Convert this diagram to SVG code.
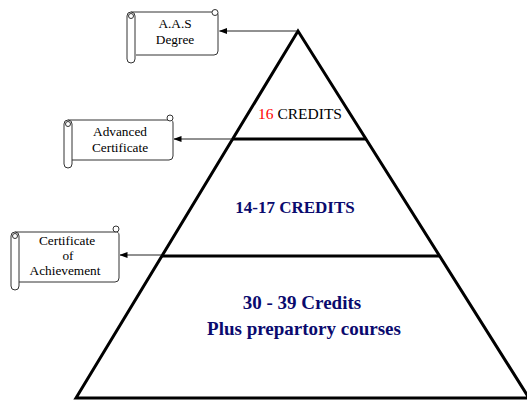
<svg xmlns="http://www.w3.org/2000/svg" width="527" height="402" viewBox="0 0 527 402">
<style>
.scroll{fill:#fff;stroke:#333;stroke-width:1}
.serif{font-family:"Liberation Serif","Tinos","DejaVu Serif",serif}
.lbl{font-size:13.3px;fill:#000;text-anchor:middle}
.pyr{fill:none;stroke:#000;stroke-width:3}
.conn{stroke:#222;stroke-width:1;fill:none;marker-end:url(#ah)}
.navy{font-weight:bold;fill:#0a0a6e;text-anchor:middle}
</style>
<defs>
<marker id="ah" viewBox="0 0 8 6" refX="7.5" refY="3" markerWidth="8" markerHeight="6" markerUnits="userSpaceOnUse" orient="auto">
<path d="M0,0 L8,3 L0,6 Z" fill="#000"/>
</marker>
</defs>
<rect width="527" height="402" fill="#fff"/>

<g id="pyramid">
<path class="pyr" d="M76,398 L298,31 L529,398 Z" stroke-linejoin="miter"/>
<line class="pyr" x1="233" y1="139" x2="366" y2="139"/>
<line class="pyr" x1="162" y1="256" x2="440" y2="256"/>
</g>

<g id="tier-top">
<text class="serif" x="300" y="119" font-size="15.5" text-anchor="middle"><tspan fill="#ff0000">16</tspan><tspan fill="#000"> CREDITS</tspan></text>
</g>
<g id="tier-middle">
<text class="serif navy" x="295" y="213" font-size="17">14-17 CREDITS</text>
</g>
<g id="tier-bottom">
<text class="serif navy" x="302" y="309" font-size="19">30 - 39 Credits</text>
<text class="serif navy" x="304" y="335" font-size="19">Plus prepartory courses</text>
</g>

<g id="scroll-aas">
<path class="scroll" d="M131,12 H214 A3,3 0 0 1 218,15 V51 A4,4 0 0 1 214,55 H136"/>
<circle class="scroll" cx="215" cy="12.5" r="3"/>
<rect class="scroll" x="127" y="12" width="8" height="51" rx="4"/>
<circle class="scroll" cx="131" cy="16" r="2.5"/>
<text class="serif lbl" x="175" y="27.5">A.A.S</text>
<text class="serif lbl" x="175" y="43.5">Degree</text>
</g>

<g id="scroll-advanced">
<path class="scroll" d="M68,120 H169 A3,3 0 0 1 173,123 V156 A4,4 0 0 1 169,160 H72"/>
<circle class="scroll" cx="170" cy="118" r="3"/>
<rect class="scroll" x="64" y="120" width="8" height="48" rx="4"/>
<circle class="scroll" cx="68" cy="124" r="2.5"/>
<text class="serif lbl" x="120" y="135.5">Advanced</text>
<text class="serif lbl" x="120" y="151.5">Certificate</text>
</g>

<g id="scroll-achievement">
<path class="scroll" d="M15,232 H115 A3,3 0 0 1 119,235 V278 A4,4 0 0 1 115,282 H19"/>
<circle class="scroll" cx="116" cy="229" r="3"/>
<rect class="scroll" x="11" y="232" width="8" height="58" rx="4"/>
<circle class="scroll" cx="15" cy="236" r="2.5"/>
<text class="serif lbl" x="67" y="245">Certificate</text>
<text class="serif lbl" x="68" y="260">of</text>
<text class="serif lbl" x="65" y="275">Achievement</text>
</g>

<g id="connectors">
<line class="conn" x1="297" y1="31" x2="219.5" y2="31"/>
<line class="conn" x1="232" y1="139" x2="174" y2="139"/>
<line class="conn" x1="161" y1="255" x2="120" y2="255"/>
</g>
</svg>
